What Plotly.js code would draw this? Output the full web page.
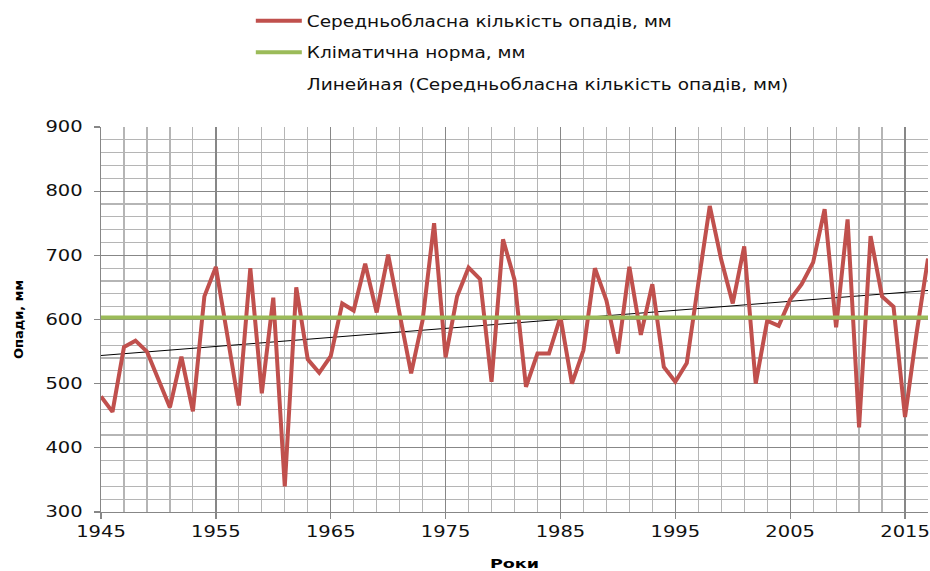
<!DOCTYPE html>
<html>
<head>
<meta charset="utf-8">
<script src="https://cdn.plot.ly/plotly-3.0.1.min.js"></script>
<style>
  html, body { margin: 0; padding: 0; background: #fff; }
  #chart { width: 930px; height: 571px; }
</style>
</head>
<body>
<div id="chart"></div>
<script>
// ---- Data ----
const years = [
  1945, 1946, 1947, 1948, 1949, 1950, 1951, 1952, 1953, 1954,
  1955, 1956, 1957, 1958, 1959, 1960, 1961, 1962, 1963, 1964,
  1965, 1966, 1967, 1968, 1969, 1970, 1971, 1972, 1973, 1974,
  1975, 1976, 1977, 1978, 1979, 1980, 1981, 1982, 1983, 1984,
  1985, 1986, 1987, 1988, 1989, 1990, 1991, 1992, 1993, 1994,
  1995, 1996, 1997, 1998, 1999, 2000, 2001, 2002, 2003, 2004,
  2005, 2006, 2007, 2008, 2009, 2010, 2011, 2012, 2013, 2014,
  2015, 2016, 2017
];
const precipitation = [
  480, 456, 557, 567, 550, 506, 463, 542, 457, 636,
  682, 575, 466, 680, 485, 634, 340, 650, 538, 517,
  543, 625, 614, 687, 611, 701, 606, 516, 599, 750,
  541, 636, 681, 663, 503, 725, 662, 495, 547, 547,
  604, 500, 552, 680, 630, 547, 682, 576, 655, 526,
  503, 532, 656, 777, 693, 625, 714, 500, 598, 590,
  631, 655, 689, 772, 588, 756, 432, 730, 636, 620,
  448, 578, 695
];
const climateNorm = 603;
const seriesNames = [
  'Середньобласна кількість опадів, мм',
  'Кліматична норма, мм',
  'Линейная (Середньобласна кількість опадів, мм)'
];
const xTitle = 'Роки';
const yTitle = 'Опади, мм';

// ---- Linear trend (least squares, as Excel's trendline) ----
const n = years.length;
const mx = years.reduce((a, b) => a + b, 0) / n;
const my = precipitation.reduce((a, b) => a + b, 0) / n;
let sxy = 0, sxx = 0;
for (let i = 0; i < n; i++) {
  sxy += (years[i] - mx) * (precipitation[i] - my);
  sxx += (years[i] - mx) * (years[i] - mx);
}
const slope = sxy / sxx;
const intercept = my - slope * mx;
const xEnds = [years[0], years[n - 1]];
const trendY = xEnds.map(x => intercept + slope * x);

const FONT = 'DejaVu Sans, Liberation Sans, Arial, sans-serif';
const MAJOR = '#878787';
const MINOR = '#b5b5b5';

const traces = [
  { x: xEnds, y: trendY, mode: 'lines', line: { color: '#000000', width: 1 },
    showlegend: false, hoverinfo: 'skip' },
  { x: years, y: precipitation, mode: 'lines', name: seriesNames[0],
    line: { color: '#C0504D', width: 4 }, legendgroup: 'a', legendrank: 1 },
  { x: xEnds, y: [climateNorm, climateNorm], mode: 'lines', name: seriesNames[1],
    line: { color: '#9BBB59', width: 4 }, legendgroup: 'b', legendrank: 2 },
  { x: [null], y: [null], mode: 'lines', name: seriesNames[2],
    line: { color: 'rgba(0,0,0,0)', width: 1 }, legendgroup: 'c', legendrank: 3 }
];

const layout = {
  width: 930, height: 571,
  margin: { l: 101, r: 2, t: 127, b: 59 },
  paper_bgcolor: '#ffffff', plot_bgcolor: '#ffffff',
  font: { family: FONT, size: 15, color: '#000000' },
  showlegend: true,
  legend: {
    x: 0.2005, y: 1.318, xanchor: 'left', yanchor: 'top',
    orientation: 'v', traceorder: 'grouped', tracegroupgap: 9,
    bgcolor: 'rgba(0,0,0,0)', borderwidth: 0,
    font: { family: FONT, size: 15, color: '#111111' }
  },
  xaxis: {
    range: [1945, 2017], tick0: 1945, dtick: 10,
    showgrid: true, gridcolor: MAJOR, gridwidth: 1.3,
    minor: { tick0: 1945, dtick: 2, showgrid: true, gridcolor: MINOR, gridwidth: 1.2, ticks: '' },
    ticks: 'outside', ticklen: 6, tickcolor: MAJOR, tickwidth: 1.3,
    showline: true, linecolor: MAJOR, linewidth: 1.3,
    zeroline: false, fixedrange: true,
    tickfont: { family: FONT, size: 15, color: '#111111' },
    title: { text: xTitle, standoff: 18,
             font: { family: FONT, size: 13, color: '#000000', weight: 'bold' } }
  },
  yaxis: {
    range: [300, 900], tick0: 300, dtick: 100,
    showgrid: true, gridcolor: MAJOR, gridwidth: 1.3,
    minor: { tick0: 300, dtick: 20, showgrid: true, gridcolor: MINOR, gridwidth: 1.2, ticks: '' },
    ticks: 'outside', ticklen: 6, tickcolor: MAJOR, tickwidth: 1.3,
    showline: true, linecolor: MAJOR, linewidth: 1.3,
    zeroline: false, fixedrange: true,
    ticklabelstandoff: 8,
    tickfont: { family: FONT, size: 15, color: '#111111' },
    title: { text: yTitle, standoff: 27,
             font: { family: FONT, size: 13, color: '#000000', weight: 'bold' } }
  }
};

function stretch(gd, selector, k) {
  gd.querySelectorAll(selector).forEach(el => {
    const w = el.getComputedTextLength();
    if (w > 0) {
      el.setAttribute('textLength', (w * k).toFixed(2));
      el.setAttribute('lengthAdjust', 'spacingAndGlyphs');
    }
  });
}

const gd = document.getElementById('chart');
Plotly.newPlot(gd, traces, layout, { displayModeBar: false, staticPlot: true }).then(() => {
  stretch(gd, '.xtick text', 1.3);
  stretch(gd, '.ytick text', 1.3);
  stretch(gd, '.g-xtitle text', 1.35);
  // legend text: widen glyphs so the first entry spans ~365 px like the reference
  const legTexts = gd.querySelectorAll('.legendtext');
  let w0 = 0;
  legTexts.forEach(el => { if (el.textContent === seriesNames[0]) w0 = el.getComputedTextLength(); });
  const kLeg = w0 > 0 ? 365 / w0 : 1.1;
  stretch(gd, '.legendtext', kLeg);
  gd.querySelectorAll('.legend [clip-path]').forEach(el => el.removeAttribute('clip-path'));
  gd.querySelectorAll('.legend').forEach(el => el.removeAttribute('clip-path'));
  // longer legend line samples, as in the reference
  gd.querySelectorAll('.legend .legendlines path').forEach(p => p.setAttribute('d', 'M-11,0h46'));
});
</script>
</body>
</html>
